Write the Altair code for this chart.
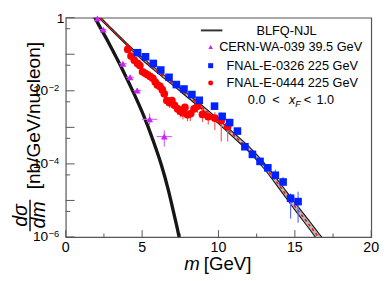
import altair as alt
import pandas as pd

# ---------------- data ----------------
# CERN-WA-039, 39.5 GeV (purple triangles)
wa_m = [2.07, 2.46, 3.74, 4.21, 4.68, 5.49, 6.45]
wa_dm = [0.10, 0.20, 0.25, 0.25, 0.25, 0.50, 0.50]
wa_y = [0.95, 0.47, 0.055, 0.0234, 0.0102, 1.66e-3, 5.6e-4]
wa_ylo = [0.90, 0.44, 0.050, 0.0205, 8.6e-3, 1.15e-3, 3.0e-4]
wa_yhi = [1.0, 0.50, 0.060, 0.0265, 0.0120, 2.4e-3, 8.3e-4]

# FNAL-E-0326, 225 GeV (blue squares)
e326_m = [4.70, 5.22, 5.73, 6.22, 6.76, 7.24, 7.74, 8.26, 8.74, 9.74, 10.24,
          10.73, 11.24, 11.73, 12.22, 12.72, 13.23, 13.72, 14.23, 14.72, 15.21]
e326_y = [0.110, 0.085, 0.056, 0.037, 0.0234, 0.0148, 0.0112, 7.9e-3, 5.5e-3, 3.8e-3, 2.0e-3,
          1.35e-3, 7.9e-4, 2.95e-4, 1.82e-4, 1.17e-4, 7.8e-5, 4.9e-5, 3.2e-5, 1.15e-5, 9.3e-6]
e326_ylo = [0.102, 0.079, 0.052, 0.0345, 0.0218, 0.0138, 0.0104, 7.3e-3, 5.1e-3, 3.5e-3, 1.85e-3,
            1.24e-3, 7.2e-4, 2.7e-4, 1.65e-4, 1.03e-4, 6.6e-5, 3.9e-5, 2.6e-5, 3.2e-6, 2.45e-6]
e326_yhi = [0.118, 0.091, 0.060, 0.0395, 0.0250, 0.0158, 0.0120, 8.5e-3, 5.9e-3, 4.1e-3, 2.15e-3,
            1.46e-3, 8.6e-4, 3.2e-4, 2.0e-4, 1.32e-4, 9.2e-5, 6.9e-5, 4.4e-5, 1.55e-5, 1.74e-5]

# FNAL-E-0444, 225 GeV (red circles)
e444_m = [4.06, 4.27, 4.49, 4.70, 4.85, 5.03, 5.20, 5.36, 5.53, 5.70, 5.86, 6.00, 6.17, 6.32,
          6.45, 6.62, 6.80, 6.95, 7.12, 7.33, 7.50, 7.67, 7.80, 7.97, 8.16, 8.40, 8.63, 8.95,
          9.33, 9.76, 10.18, 10.60]
e444_y = [0.135, 0.089, 0.068, 0.056, 0.049, 0.033, 0.030, 0.0275, 0.0245, 0.0219, 0.0174,
          0.0145, 0.0132, 0.0107, 8.3e-3, 5.4e-3, 4.7e-3, 5.4e-3, 4.0e-3, 3.2e-3, 2.75e-3,
          2.5e-3, 3.5e-3, 2.2e-3, 2.35e-3, 3.2e-3, 3.8e-3, 2.25e-3, 1.95e-3, 1.78e-3, 1.55e-3, 1.05e-3]
e444_ylo = [0.125, 0.082, 0.062, 0.051, 0.044, 0.029, 0.026, 0.0235, 0.0205, 0.018, 0.014,
            0.0115, 0.0103, 8.2e-3, 6.2e-3, 4.0e-3, 3.4e-3, 3.9e-3, 2.8e-3, 2.2e-3, 1.85e-3,
            1.65e-3, 2.4e-3, 1.45e-3, 1.5e-3, 2.1e-3, 2.5e-3, 1.4e-3, 1.2e-3, 8.5e-4, 4.1e-4, 4.1e-4]
e444_yhi = [0.145, 0.096, 0.074, 0.061, 0.054, 0.037, 0.034, 0.031, 0.028, 0.025, 0.020,
            0.017, 0.0155, 0.0127, 0.0100, 6.6e-3, 5.8e-3, 6.7e-3, 5.0e-3, 4.0e-3, 3.45e-3,
            3.15e-3, 4.4e-3, 2.8e-3, 3.0e-3, 4.1e-3, 4.9e-3, 3.2e-3, 2.6e-3, 2.6e-3, 2.6e-3, 1.4e-3]

# BLFQ-NJL, 225 GeV (band with central dashed line)
band_m = [2.0, 2.24, 3.0, 4.0, 5.0, 6.0, 7.0, 8.0, 9.0, 10.0, 11.0, 12.0, 13.0, 14.0, 15.0, 16.0, 16.6, 17.0]
band_c = [1.26, 1.0, 0.479, 0.186, 0.0759, 0.0339, 0.0158, 7.24e-3, 3.31e-3, 1.45e-3, 6.03e-4,
          2.51e-4, 8.71e-5, 2.51e-5, 6.92e-6, 2.0e-6, 9.3e-7, 5.6e-7]
band_hi = [1.35, 1.07, 0.513, 0.199, 0.0822, 0.0372, 0.0175, 8.12e-3, 3.76e-3, 1.66e-3, 7.0e-4,
           2.95e-4, 1.05e-4, 3.09e-5, 8.71e-6, 2.58e-6, 1.21e-6, 7.4e-7]
band_lo = [1.18, 0.933, 0.447, 0.174, 0.0700, 0.0309, 0.0143, 6.45e-3, 2.92e-3, 1.26e-3, 5.2e-4,
           2.14e-4, 7.25e-5, 2.04e-5, 5.50e-6, 1.55e-6, 7.1e-7, 4.2e-7]

# BLFQ-NJL, 39.5 GeV (steep curve)
steep_m = [1.78, 1.92, 2.79, 3.62, 4.39, 5.10, 5.71, 6.25, 6.70, 7.08, 7.42, 7.55]
steep_y = [1.32, 1.0, 0.214, 0.0458, 9.8e-3, 2.09e-3, 4.48e-4, 9.6e-5, 2.05e-5, 4.38e-6, 1.0e-6, 5.0e-7]

# axes
x_major = [0, 5, 10, 15, 20]
x_minor = [2.5, 7.5, 12.5, 17.5]
y_major = [1e-6, 1e-5, 1e-4, 1e-3, 1e-2, 1e-1, 1.0]
y_minor = [5e-6, 5e-5, 5e-4, 5e-3, 5e-2, 0.5]
y_label_vals = [1e-2, 1e-4, 1e-6]
y_label_exps = ["\u22122", "\u22124", "\u22126"]

legend_labels = ["BLFQ-NJL", "CERN-WA-039 39.5 GeV", "FNAL-E-0326 225 GeV", "FNAL-E-0444 225 GeV"]

# ---------------- styling ----------------
FONT = "Liberation Sans"
W, H = 312, 224
PURPLE = "#cc22ff"
BLUE = "#0022ff"
RED = "#ff0000"
FRAME = "#555555"

xs = alt.Scale(domain=[0, 20], nice=False, zero=False)
ys = alt.Scale(type="log", domain=[1e-6, 1], nice=False)


def X(f):
    return alt.X(f, type="quantitative", scale=xs, axis=None)


def Y(f):
    return alt.Y(f, type="quantitative", scale=ys, axis=None)


wa = pd.DataFrame({"m": wa_m, "y": wa_y, "ylo": wa_ylo, "yhi": wa_yhi,
                   "mlo": [a - b for a, b in zip(wa_m, wa_dm)],
                   "mhi": [a + b for a, b in zip(wa_m, wa_dm)]})
e326 = pd.DataFrame({"m": e326_m, "y": e326_y, "ylo": e326_ylo, "yhi": e326_yhi})
e444 = pd.DataFrame({"m": e444_m, "y": e444_y, "ylo": e444_ylo, "yhi": e444_yhi})
band = pd.DataFrame({"m": band_m, "c": band_c, "lo": band_lo, "hi": band_hi})
steep = pd.DataFrame({"m": steep_m, "y": steep_y})
one = pd.DataFrame({"a": [0]})


def txt(text, x, y, size=13, style="normal", align="left", baseline="middle", angle=0):
    return alt.Chart(one).mark_text(font=FONT, fontSize=size, fontStyle=style, color="black",
                                    align=align, baseline=baseline, angle=angle, text=text) \
        .encode(x=alt.value(x), y=alt.value(y))


layers = []

# theory band
layers.append(alt.Chart(band).mark_area(color="#b8b8b8", clip=True, interpolate="monotone")
              .encode(x=X("m"), y=Y("lo"), y2=alt.Y2("hi")))
for col in ["lo", "hi"]:
    layers.append(alt.Chart(band).mark_line(color="#111111", strokeWidth=1.1, clip=True,
                                            interpolate="monotone")
                  .encode(x=X("m"), y=Y(col)))
layers.append(alt.Chart(band).mark_line(color=RED, strokeWidth=1.4, strokeDash=[3, 3], clip=True,
                                        interpolate="monotone")
              .encode(x=X("m"), y=Y("c")))
layers.append(alt.Chart(steep).mark_line(color="#161616", strokeWidth=3.4, clip=True,
                                         interpolate="monotone")
              .encode(x=X("m"), y=Y("y")))

# error bars
layers.append(alt.Chart(e444).mark_rule(color="#ff5a5a", strokeWidth=1.2)
              .encode(x=X("m"), y=Y("ylo"), y2=alt.Y2("yhi")))
layers.append(alt.Chart(e326).mark_rule(color="#5a6cff", strokeWidth=1.2)
              .encode(x=X("m"), y=Y("ylo"), y2=alt.Y2("yhi")))
layers.append(alt.Chart(wa).mark_rule(color="#d466ff", strokeWidth=1.2)
              .encode(x=X("m"), y=Y("ylo"), y2=alt.Y2("yhi")))
layers.append(alt.Chart(wa).mark_rule(color="#d466ff", strokeWidth=1.2)
              .encode(x=X("mlo"), x2=alt.X2("mhi"), y=Y("y")))

# markers
layers.append(alt.Chart(e444).mark_circle(color=RED, size=62, opacity=1)
              .encode(x=X("m"), y=Y("y")))
layers.append(alt.Chart(e326).mark_square(color=BLUE, size=60, opacity=1)
              .encode(x=X("m"), y=Y("y")))
layers.append(alt.Chart(wa).mark_point(shape="triangle-up", filled=True, color=PURPLE,
                                       size=48, opacity=1)
              .encode(x=X("m"), y=Y("y")))

# ticks (inside the frame)
layers.append(alt.Chart(pd.DataFrame({"v": x_major})).mark_rule(color=FRAME)
              .encode(x=X("v"), y=alt.value(H), y2=alt.value(H - 7)))
layers.append(alt.Chart(pd.DataFrame({"v": x_minor})).mark_rule(color=FRAME)
              .encode(x=X("v"), y=alt.value(H), y2=alt.value(H - 3.5)))
layers.append(alt.Chart(pd.DataFrame({"v": y_major})).mark_rule(color=FRAME)
              .encode(y=Y("v"), x=alt.value(0), x2=alt.value(9)))
layers.append(alt.Chart(pd.DataFrame({"v": y_minor})).mark_rule(color=FRAME)
              .encode(y=Y("v"), x=alt.value(0), x2=alt.value(4.5)))

# tick labels
layers.append(alt.Chart(pd.DataFrame({"v": x_major})).mark_text(
    font=FONT, fontSize=14.5, color="black", align="center", baseline="alphabetic")
    .encode(x=X("v"), y=alt.value(239.5), text=alt.Text("v:Q", format="d")))
ylab = pd.DataFrame({"v": y_label_vals, "e": y_label_exps})
layers.append(alt.Chart(ylab).mark_text(font=FONT, fontSize=14, color="black", align="right",
                                        baseline="middle", text="10")
              .encode(y=Y("v"), x=alt.value(-18)))
layers.append(alt.Chart(ylab).mark_text(font=FONT, fontSize=9.5, color="black", align="left",
                                        baseline="alphabetic", dy=0.5)
              .encode(y=Y("v"), x=alt.value(-17.5), text="e:N"))
layers.append(alt.Chart(pd.DataFrame({"v": [1.0]})).mark_text(
    font=FONT, fontSize=14, color="black", align="right", baseline="middle", text="1", dy=1)
    .encode(y=Y("v"), x=alt.value(-1.5)))

# axis titles
layers.append(txt("m", 121, 258, size=19, style="italic", baseline="alphabetic"))
layers.append(txt("[GeV]", 141, 258, size=19, baseline="alphabetic"))
layers.append(txt("[nb/GeV/nucleon]", -32, 100, size=19.5, align="center", angle=270))
layers.append(txt("d\u03c3", -46, 202, size=20, style="italic", align="center", angle=270))
layers.append(txt("dm", -27.5, 201.5, size=20, style="italic", align="center", angle=270))
layers.append(alt.Chart(one).mark_rule(color="black", strokeWidth=1.4)
              .encode(x=alt.value(-36.5), y=alt.value(186), y2=alt.value(218)))

# legend
layers.append(alt.Chart(one).mark_rule(color="#333333", strokeWidth=2)
              .encode(x=alt.value(138), x2=alt.value(160), y=alt.value(13)))
layers.append(alt.Chart(one).mark_point(shape="triangle-up", filled=True, color=PURPLE,
                                        size=22, opacity=1)
              .encode(x=alt.value(148), y=alt.value(30)))
layers.append(alt.Chart(one).mark_square(color=BLUE, size=26, opacity=1)
              .encode(x=alt.value(148), y=alt.value(49)))
layers.append(alt.Chart(one).mark_circle(color=RED, size=26, opacity=1)
              .encode(x=alt.value(148), y=alt.value(66.7)))
for lab, cx, cy in zip(legend_labels, [225.5, 229.7, 231.3, 231.3], [13.5, 30.5, 49.5, 67.2]):
    layers.append(txt(lab, cx, cy, align="center"))
layers.append(txt("0.0", 186, 84.5))
layers.append(txt("<", 211, 84.5))
layers.append(txt("x", 228, 84.5, style="italic"))
layers.append(txt("F", 234.5, 88.5, size=9, style="italic"))
layers.append(txt("<", 243, 84.5))
layers.append(txt("1.0", 256, 84.5))

chart = alt.layer(*layers).properties(
    width=W, height=H,
    autosize=alt.AutoSizeParams(type="none"),
    padding={"left": 59, "top": 7, "right": 11, "bottom": 40},
).configure_view(stroke=FRAME, strokeWidth=1.2)

chart.save("out.html", embed_options={"renderer": "svg", "actions": False})
